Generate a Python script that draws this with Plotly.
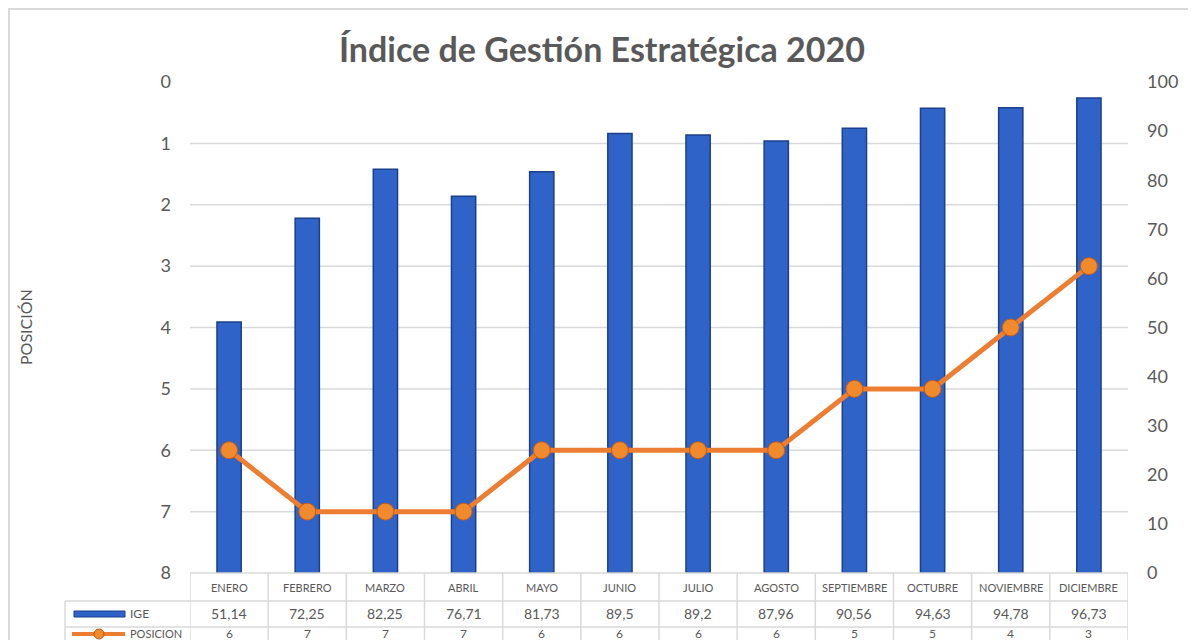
import plotly.graph_objects as go

months = ["ENERO", "FEBRERO", "MARZO", "ABRIL", "MAYO", "JUNIO", "JULIO",
          "AGOSTO", "SEPTIEMBRE", "OCTUBRE", "NOVIEMBRE", "DICIEMBRE"]
ige = [51.14, 72.25, 82.25, 76.71, 81.73, 89.5, 89.2, 87.96, 90.56, 94.63, 94.78, 96.73]
posicion = [6, 7, 7, 7, 6, 6, 6, 6, 5, 5, 4, 3]
left_ticks = [0, 1, 2, 3, 4, 5, 6, 7, 8]
right_ticks = [0, 10, 20, 30, 40, 50, 60, 70, 80, 90, 100]

# page is offset by the default 8px body margin
OFF = 8
PAGE_W, PAGE_H = 1196, 640
W, H = PAGE_W - OFF, PAGE_H - OFF
# plot area in page pixels
L, R, T, B = 190, 1128, 82, 573
FONT = "Lato"
GRAY = "#595959"
GRID = "#d9d9d9"


def py(p):
    return (B - p) / (B - T)


def px(p):
    return (p - L) / (R - L)


fig = go.Figure()
fig.add_trace(go.Bar(
    x=list(range(len(months))), y=ige, name="IGE", yaxis="y",
    width=0.31,
    marker=dict(color="#2f63c8", line=dict(color="#1c3f8c", width=1.5)),
))
fig.add_trace(go.Scatter(
    x=list(range(len(months))), y=posicion, name="POSICION", yaxis="y2",
    mode="lines+markers",
    line=dict(color="#ED7D31", width=5),
    marker=dict(size=17, color="#f08a2c", line=dict(color="#c55a11", width=1)),
))

shapes = []
# outer frame
shapes.append(dict(type="rect", xref="paper", yref="paper",
                   x0=px(9), x1=px(PAGE_W + 20), y0=py(9), y1=py(PAGE_H + 20),
                   line=dict(color=GRID, width=2), layer="below"))
# gridlines for left axis (1..7)
for t in left_ticks[1:-1]:
    shapes.append(dict(type="line", xref="paper", yref="y2", x0=0, x1=1, y0=t, y1=t,
                       line=dict(color=GRID, width=1.5), layer="below"))
# table horizontal lines
shapes.append(dict(type="line", xref="paper", yref="paper", x0=0, x1=1, y0=py(B), y1=py(B),
                   line=dict(color=GRID, width=1.5)))
for yy in (601, 627):
    shapes.append(dict(type="line", xref="paper", yref="paper", x0=px(65), x1=1, y0=py(yy), y1=py(yy),
                       line=dict(color=GRID, width=1.5)))
# table vertical lines
for i in range(len(months) + 1):
    xv = i - 0.5
    shapes.append(dict(type="line", xref="x", yref="paper", x0=xv, x1=xv, y0=py(B), y1=py(PAGE_H + 10),
                       line=dict(color=GRID, width=1.5)))
shapes.append(dict(type="line", xref="paper", yref="paper", x0=px(65), x1=px(65), y0=py(601), y1=py(PAGE_H + 10),
                   line=dict(color=GRID, width=1.5)))
# legend keys
shapes.append(dict(type="rect", xref="paper", yref="paper", x0=px(74), x1=px(125), y0=py(611), y1=py(617),
                   fillcolor="#2f63c8", line=dict(color="#1c3f8c", width=1)))
shapes.append(dict(type="line", xref="paper", yref="paper", x0=px(72), x1=px(125), y0=py(634), y1=py(634),
                   line=dict(color="#ED7D31", width=4)))
shapes.append(dict(type="circle", xref="paper", yref="paper", x0=px(94), x1=px(104), y0=py(629), y1=py(639),
                   fillcolor="#f08a2c", line=dict(color="#c55a11", width=1)))

ann = []
for i, m in enumerate(months):
    ann.append(dict(x=i, xref="x", y=py(587), yref="paper", text=m, showarrow=False,
                    xanchor="center", yanchor="middle",
                    font=dict(family=FONT, size=11, color=GRAY)))
    ann.append(dict(x=i, xref="x", y=py(614), yref="paper", text=str(ige[i]).replace(".", ","),
                    showarrow=False, xanchor="center", yanchor="middle",
                    font=dict(family=FONT, size=14, color=GRAY)))
    ann.append(dict(x=i, xref="x", y=py(633), yref="paper", text=str(posicion[i]),
                    showarrow=False, xanchor="center", yanchor="middle",
                    font=dict(family=FONT, size=12, color=GRAY)))
ann.append(dict(x=px(128), xref="paper", y=py(614), yref="paper", text="IGE", xanchor="left",
                yanchor="middle", showarrow=False, font=dict(family=FONT, size=12, color=GRAY)))
ann.append(dict(x=px(128), xref="paper", y=py(633), yref="paper", text="POSICION", xanchor="left",
                yanchor="middle", showarrow=False, font=dict(family=FONT, size=11, color=GRAY)))
# left axis title
ann.append(dict(x=px(25), xref="paper", y=py(327), yref="paper", text="POSICIÓN", textangle=-90,
                xanchor="center", yanchor="middle",
                showarrow=False, font=dict(family=FONT, size=16, color=GRAY)))

fig.update_layout(
    width=W, height=H,
    margin=dict(l=L - OFF, r=PAGE_W - R, t=T - OFF, b=PAGE_H - B),
    paper_bgcolor="white", plot_bgcolor="white",
    showlegend=False,
    title=dict(text="<b>Índice de Gestión Estratégica 2020</b>", x=0.5, xanchor="center",
               y=1 - (50 - OFF) / H, yanchor="middle",
               font=dict(family=FONT, size=34, color=GRAY)),
    xaxis=dict(range=[-0.5, len(months) - 0.5], showticklabels=False, showgrid=False,
               zeroline=False, showline=False, ticks=""),
    yaxis=dict(side="right", range=[0, 100], tickvals=right_ticks, showgrid=False,
               zeroline=False, showline=False, ticks="",
               ticklabelstandoff=18,
               tickfont=dict(family=FONT, size=18, color=GRAY)),
    yaxis2=dict(side="left", overlaying="y", range=[8, 0], tickvals=left_ticks,
                showgrid=False, zeroline=False, showline=False, ticks="",
                ticklabelstandoff=18,
                tickfont=dict(family=FONT, size=18, color=GRAY)),
    bargap=0.7,
    shapes=shapes,
    annotations=ann,
)

fig.write_html("out.html")
